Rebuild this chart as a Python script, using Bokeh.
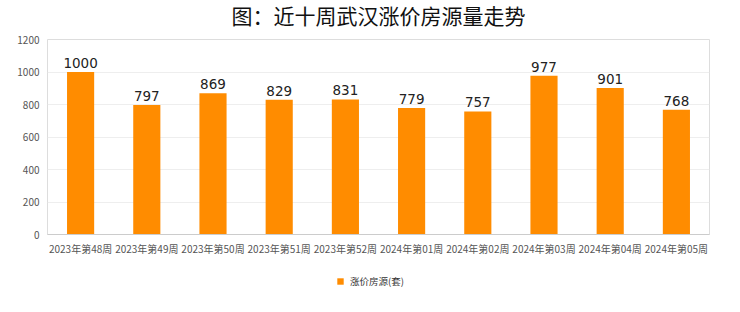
from bokeh.plotting import figure
from bokeh.layouts import column
from bokeh.models import ColumnDataSource, FactorRange, Range1d, LabelSet, Label, Legend, LegendItem, SingleIntervalTicker
from bokeh.core.properties import value
from bokeh.embed import file_html
from bokeh.resources import INLINE

weeks = ["2023年第48周", "2023年第49周", "2023年第50周", "2023年第51周", "2023年第52周",
         "2024年第01周", "2024年第02周", "2024年第03周", "2024年第04周", "2024年第05周"]
values = [1000, 797, 869, 829, 831, 779, 757, 977, 901, 768]
title_text = "图：近十周武汉涨价房源量走势"
series_name = "涨价房源(套)"

FONT = "Noto Sans CJK SC"
BAR = "#FF8C00"

# title strip
p0 = figure(width=740, height=30, output_backend="svg", toolbar_location=None,
            min_border=0, x_range=Range1d(0, 740), y_range=Range1d(0, 30),
            x_axis_location=None, y_axis_location=None)
p0.grid.visible = False
p0.outline_line_color = None
p0.add_layout(Label(x=370, y=16, text=title_text, text_align="center", text_baseline="middle",
                    text_font=FONT, text_font_size="21px", text_color="#111111"))

# main chart
src = ColumnDataSource(dict(x=weeks, top=values, label=[str(v) for v in values]))

p = figure(frame_width=662, frame_height=195, x_range=FactorRange(*weeks, range_padding=0),
           y_range=Range1d(0, 1200), output_backend="svg", toolbar_location=None,
           min_border_left=47, min_border_right=31, min_border_top=9, min_border_bottom=22)

r = p.vbar(x="x", top="top", width=0.41, source=src, color=BAR, line_color=None)

p.add_layout(LabelSet(x="x", y="top", text="label", source=src, text_align="center",
                      text_baseline="alphabetic", y_offset=4, text_font_size="13.5px",
                      text_color="#222222", text_font=value("DejaVu Sans")))

p.outline_line_color = "#dddddd"
p.xgrid.grid_line_color = None
p.ygrid.grid_line_color = "#eeeeee"
p.yaxis.ticker = SingleIntervalTicker(interval=200)
for ax in (p.xaxis, p.yaxis):
    ax.axis_line_color = None
    ax.major_tick_line_color = None
    ax.minor_tick_line_color = None
    ax.major_label_text_font_size = "10px"
    ax.major_label_text_color = "#555555"
    ax.major_label_text_font = FONT
p.xaxis.axis_line_color = "#cccccc"
p.xaxis.major_label_standoff = 0
p.yaxis.major_label_standoff = 2

# legend strip
p2 = figure(width=740, height=56, output_backend="svg", toolbar_location=None,
            min_border=0, x_range=Range1d(0, 1), y_range=Range1d(0, 1),
            x_axis_location=None, y_axis_location=None)
p2.grid.visible = False
p2.outline_line_color = None
r2 = p2.vbar(x=[0.5], top=[0], width=0.1, color=BAR, line_color=None)
legend = Legend(items=[LegendItem(label=series_name, renderers=[r2])], location=(289, 26),
                orientation="horizontal", border_line_color=None, background_fill_alpha=0,
                label_text_font=FONT, label_text_font_size="9.5px", label_text_color="#333333",
                glyph_width=8, glyph_height=8, margin=0, padding=0, label_standoff=6,
                label_height=12)
p2.add_layout(legend)

open("out.html", "w").write(file_html(column(p0, p, p2, spacing=0), INLINE))
